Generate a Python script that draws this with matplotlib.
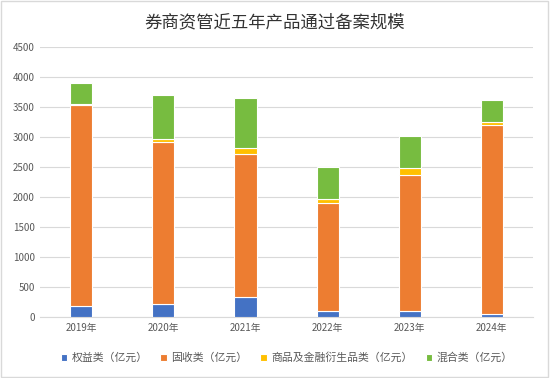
import matplotlib.pyplot as plt
import numpy as np

plt.rcParams['font.family'] = ['Noto Sans CJK SC', 'DejaVu Sans']

years = ['2019年', '2020年', '2021年', '2022年', '2023年', '2024年']
equity = [180, 225, 330, 100, 105, 57]
fixed_income = [3360, 2700, 2395, 1800, 2270, 3150]
commodity = [15, 40, 100, 70, 105, 45]
mixed = [350, 735, 823, 528, 532, 370]

series = [equity, fixed_income, commodity, mixed]
names = ['权益类（亿元）', '固收类（亿元）', '商品及金融衍生品类（亿元）', '混合类（亿元）']
colors = ['#4472C4', '#ED7D31', '#FFC000', '#77BC40']

fig = plt.figure(figsize=(5.5, 3.78), dpi=100)
ax = fig.add_axes([0.073, 0.161, 0.896, 0.714])

x = np.arange(len(years))
bottom = np.zeros(len(years))
for vals, name, c in zip(series, names, colors):
    ax.bar(x, vals, 0.27, bottom=bottom, color=c, edgecolor='white',
           linewidth=0.8, label=name, zorder=3)
    bottom += np.array(vals)

ax.set_xlim(-0.5, len(years) - 0.5)
ax.set_ylim(0, 4500)
ax.set_yticks(range(0, 4501, 500))
ax.set_xticks(x)
ax.set_xticklabels(years)
ax.grid(axis='y', color='#D9D9D9', linewidth=0.8, zorder=0)
for s in ['top', 'right', 'left']:
    ax.spines[s].set_visible(False)
ax.spines['bottom'].set_color('#D9D9D9')
ax.tick_params(length=0, labelsize=7, colors='#595959', pad=4)

fig.suptitle('券商资管近五年产品通过备案规模', y=0.965, fontsize=12.5,
             color='#333333')
ax.legend(loc='upper center', bbox_to_anchor=(0.5, -0.095), ncol=4,
          frameon=False, fontsize=7.8, handlelength=0.6, handleheight=0.6,
          handletextpad=0.4, columnspacing=1.2, labelcolor='#595959')

fig.patches.append(plt.Rectangle((0.002, 0.003), 0.995, 0.994,
                                 transform=fig.transFigure, fill=False,
                                 edgecolor='#D9D9D9', linewidth=1))
fig.savefig('out.png', dpi=100)
